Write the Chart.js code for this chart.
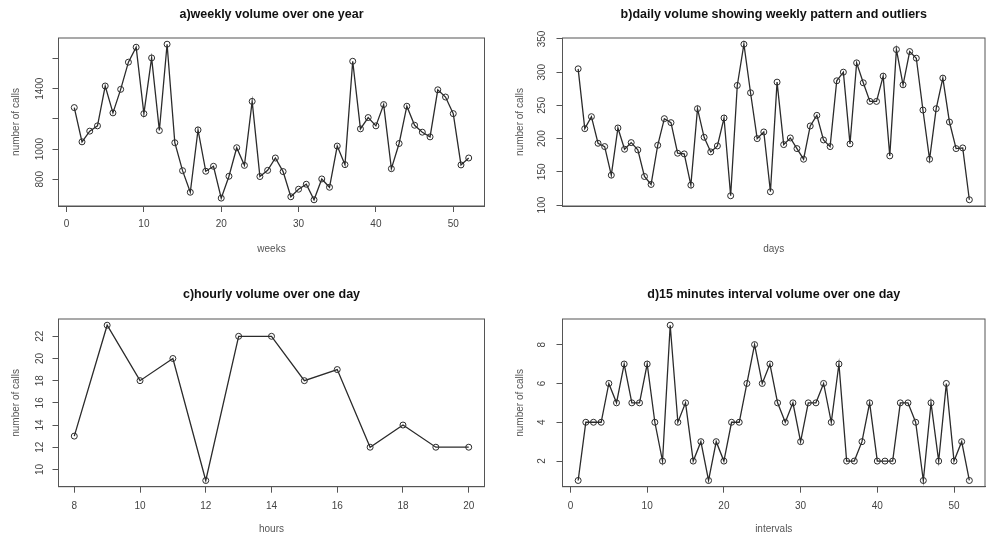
<!DOCTYPE html>
<html><head><meta charset="utf-8">
<script src="https://cdn.jsdelivr.net/npm/chart.js@4/dist/chart.umd.min.js"></script>
<style>
html,body{margin:0;padding:0;background:#fff;overflow:hidden;width:987px;height:542px;}
.p{position:absolute;}
</style></head><body>
<div class="p" style="left:0;top:0;width:493px;height:271px"><canvas id="ca"></canvas></div>
<div class="p" style="left:493px;top:0;width:497px;height:271px"><canvas id="cb"></canvas></div>
<div class="p" style="left:0;top:271px;width:493px;height:271px"><canvas id="cc"></canvas></div>
<div class="p" style="left:493px;top:271px;width:497px;height:271px"><canvas id="cd"></canvas></div>
<script>
// ---- data ----
const weeklyCalls = [1275,1048,1119,1154,1418,1240,1396,1576,1675,1235,
  1604,1123,1695,1042,857,714,1127,853,886,675,
  820,1009,892,1316,818,859,941,851,684,734,
  767,664,802,747,1020,897,1582,1134,1209,1154,
  1295,870,1037,1284,1158,1112,1081,1393,1345,1235,
  895,941];
const dailyCalls = [305,215,233,193,188,145,216,184,194,183,
  143,131,190,230,224,178,177,130,245,202,
  180,189,231,114,280,342,269,200,210,120,
  285,191,201,185,169,219,235,198,188,287,
  300,192,314,284,256,256,294,174,334,281,
  331,321,243,169,245,291,225,185,186,108];
const hours = [8,9,10,11,12,13,14,15,16,17,18,19,20];
const hourlyCalls = [13,23,18,20,9,22,22,18,19,12,14,12,12];
const intervalCalls = [1,4,4,4,6,5,7,5,5,7,
  4,2,9,4,5,2,3,1,3,2,
  4,4,6,8,6,7,5,4,5,3,
  5,5,6,4,7,2,2,3,5,2,
  2,2,5,5,4,1,5,2,6,2,
  3,1];

const yTicksA = [800,1000,1200,1400,1600];
const yLabelsA = ['800','1000','','1400',''];
const yTicksB = [100,150,200,250,300,350];
const yTicksC = [10,12,14,16,18,20,22];
const yTicksD = [2,4,6,8];
const xTicksA = [0,10,20,30,40,50];
const xTicksB = [];
const xTicksC = [8,10,12,14,16,18,20];
const xTicksD = [0,10,20,30,40,50];

// ---- drawing ----
const FONT = "'Liberation Sans', Arial, Helvetica, sans-serif";
const LINE = '#2b2b2b';
const AX = '#555';
Chart.defaults.font.family = FONT;

const frame = {id:'frame', afterDatasetsDraw(chart){
  const a = chart.chartArea, c = chart.ctx;
  c.save(); c.strokeStyle = AX; c.lineWidth = 1;
  c.strokeRect(a.left, a.top, a.right - a.left, a.bottom - a.top);
  c.restore();
}};

function panel(id, cfg){
  const pts = cfg.x.map((xv, i) => ({x: xv, y: cfg.y[i]}));
  const hasX = cfg.xTicks.length > 0;
  return new Chart(document.getElementById(id), {
    type: 'line',
    data: {datasets: [{data: pts, borderColor: LINE, borderWidth: 1.3, tension: 0, fill: false,
      pointRadius: 3, pointBorderWidth: 1, pointBorderColor: LINE, pointBackgroundColor: 'rgba(0,0,0,0)'}]},
    options: {
      responsive: true, maintainAspectRatio: false, animation: false, devicePixelRatio: 1,
      layout: {padding: {left: 0, right: cfg.padR, top: 0, bottom: 0}},
      plugins: {
        legend: {display: false}, tooltip: {enabled: false},
        title: {display: true, text: cfg.title, fullSize: false, color: '#111',
          font: {family: FONT, size: 12.5, weight: 'bold', lineHeight: 1.2},
          padding: {top: cfg.tPadT, bottom: cfg.tPadB}}
      },
      scales: {
        x: {type: 'linear', min: cfg.xMin, max: cfg.xMax,
          afterBuildTicks: s => { if (hasX) s.ticks = cfg.xTicks.map(v => ({value: v})); },
          afterFit: s => { s.height = cfg.xH; },
          ticks: {display: hasX, autoSkip: false, maxRotation: 0, minRotation: 0, padding: cfg.xPad,
            color: '#444', font: {size: 10, lineHeight: 1.2},
            callback: (v, i) => String(cfg.xTicks[i])},
          grid: {display: hasX, drawOnChartArea: false, drawTicks: true, tickLength: 6, color: AX, lineWidth: 1},
          border: {display: true, color: AX},
          title: {display: true, text: cfg.xTitle, color: '#555',
            font: {size: 10, lineHeight: 1.2}, padding: {top: 0, bottom: cfg.xtPadB}}
        },
        y: {type: 'linear', min: cfg.yMin, max: cfg.yMax,
          afterBuildTicks: s => { s.ticks = cfg.yTicks.map(v => ({value: v})); },
          afterFit: s => { s.width = cfg.yW; },
          ticks: {autoSkip: false, minRotation: 90, maxRotation: 90, crossAlign: 'center', padding: cfg.yPad,
            color: '#444', font: {size: 10, lineHeight: 1.2},
            callback: (v, i) => cfg.yLabels[i]},
          grid: {drawOnChartArea: false, drawTicks: true, tickLength: 6, color: AX, lineWidth: 1},
          border: {display: true, color: AX},
          title: {display: true, text: 'number of calls', color: '#555',
            font: {size: 10, lineHeight: 1.2}, padding: {top: cfg.ytPad, bottom: 0}}
        }
      }
    },
    plugins: [frame]
  });
}

panel('ca', {title: 'a)weekly volume over one year', x: weeklyCalls.map((v, i) => i + 1), y: weeklyCalls,
  xMin: -1.04, xMax: 54.04, yMin: 622.8, yMax: 1736.2,
  xTicks: xTicksA, yTicks: yTicksA, yLabels: yLabelsA, xTitle: 'weeks',
  padR: 8.5, tPadT: 7.5, tPadB: 15.5, xH: 65, xPad: 6.5, xtPadB: 16, yW: 58.5, yPad: 1.4, ytPad: 10.5});
panel('cb', {title: 'b)daily volume showing weekly pattern and outliers', x: dailyCalls.map((v, i) => i + 1), y: dailyCalls,
  xMin: -1.36, xMax: 62.36, yMin: 98.6, yMax: 351.4,
  xTicks: xTicksB, yTicks: yTicksB, yLabels: yTicksB.map(String), xTitle: 'days',
  padR: 1.5, tPadT: 7.5, tPadB: 15.5, xH: 65, xPad: 6.5, xtPadB: 16, yW: 69.5, yPad: 6.2, ytPad: 21});
panel('cc', {title: 'c)hourly volume over one day', x: hours, y: hourlyCalls,
  xMin: 7.52, xMax: 20.48, yMin: 8.44, yMax: 23.56,
  xTicks: xTicksC, yTicks: yTicksC, yLabels: yTicksC.map(String), xTitle: 'hours',
  padR: 8.5, tPadT: 16.5, tPadB: 16.5, xH: 55.3, xPad: 7.3, xtPadB: 7, yW: 58.5, yPad: 6.9, ytPad: 10.5});
panel('cd', {title: 'd)15 minutes interval volume over one day', x: intervalCalls.map((v, i) => i + 1), y: intervalCalls,
  xMin: -1.04, xMax: 54.04, yMin: 0.68, yMax: 9.32,
  xTicks: xTicksD, yTicks: yTicksD, yLabels: yTicksD.map(String), xTitle: 'intervals',
  padR: 1.5, tPadT: 16.5, tPadB: 16.5, xH: 55.3, xPad: 7.3, xtPadB: 7, yW: 69.5, yPad: 11.7, ytPad: 21});
</script>
</body></html>
